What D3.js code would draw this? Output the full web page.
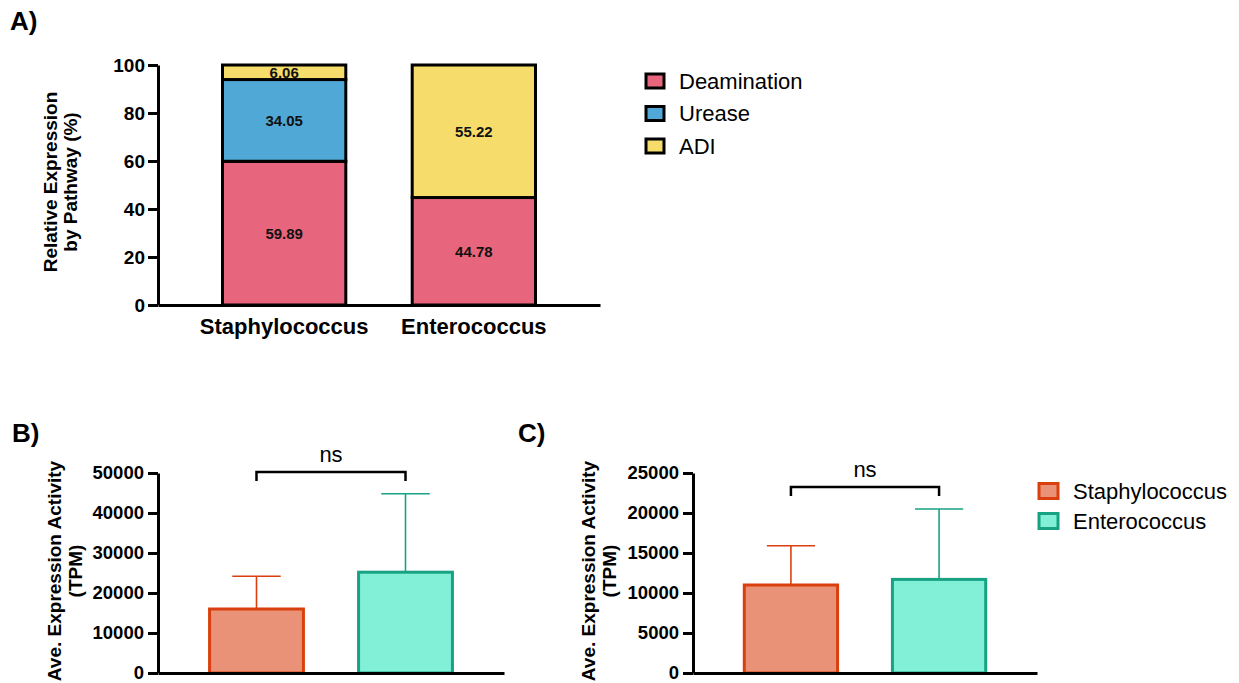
<!DOCTYPE html>
<html>
<head>
<meta charset="utf-8">
<script src="https://cdn.jsdelivr.net/npm/d3@7"></script>
<style>
  body { margin: 0; background: #fff; }
  text { font-family: "Liberation Sans", Arial, sans-serif; }
</style>
</head>
<body>
<div id="chart"></div>
<script>
// data
var genera = ["Staphylococcus", "Enterococcus"];
var pathways = ["Deamination", "Urease", "ADI"];
var deamination = [59.89, 44.78];
var urease = [34.05, 0];
var adi = [6.06, 55.22];
var ticksA = [0, 20, 40, 60, 80, 100];

// panel B and C: mean and SD (TPM)
var meanB = [16000, 25200];
var sdB = [8200, 19600];
var ticksB = [0, 10000, 20000, 30000, 40000, 50000];
var meanC = [11000, 11700];
var sdC = [4900, 8800];
var ticksC = [0, 5000, 10000, 15000, 20000, 25000];
var sigLabel = "ns";

var pathColor = d3.scaleOrdinal().domain(pathways).range(["#e8667d", "#4fa8d5", "#f6dc6b"]);
var fillColor = d3.scaleOrdinal().domain(genera).range(["#e99277", "#82f0d6"]);
var edgeColor = d3.scaleOrdinal().domain(genera).range(["#d9400e", "#17a283"]);

var width = 1239, height = 683;

var svg = d3.select("#chart")
  .append("svg")
    .attr("width", width)
    .attr("height", height);

function styleAxis(g, fontSize) {
  g.select(".domain").attr("stroke", "#000").attr("stroke-width", 3);
  g.selectAll(".tick line").attr("stroke", "#000").attr("stroke-width", 3);
  g.selectAll(".tick text")
    .attr("fill", "#000")
    .style("font-size", fontSize + "px")
    .style("font-weight", "bold");
}

// ---------- Panel A ----------
svg.append("text").attr("x", 10).attr("y", 30)
  .style("font-size", "26px").style("font-weight", "bold").text("A)");

var yA = d3.scaleLinear().domain([0, 100]).range([305, 65]);
var xA = d3.scaleBand().domain(genera).range([158, 600])
  .paddingInner(0.35).paddingOuter(0.34);

var rowsA = genera.map(function(g, i) {
  return { genus: g, Deamination: deamination[i], Urease: urease[i], ADI: adi[i] };
});
var stacked = d3.stack().keys(pathways)(rowsA);

var layers = svg.append("g").selectAll("g")
  .data(stacked)
  .enter().append("g")
    .attr("fill", function(d) { return pathColor(d.key); });

layers.selectAll("rect")
  .data(function(d) { return d.filter(function(s) { return s[1] - s[0] > 0; }); })
  .enter().append("rect")
    .attr("x", function(d) { return xA(d.data.genus); })
    .attr("y", function(d) { return yA(d[1]); })
    .attr("width", xA.bandwidth())
    .attr("height", function(d) { return yA(d[0]) - yA(d[1]); })
    .attr("stroke", "#000")
    .attr("stroke-width", 3);

layers.selectAll("text")
  .data(function(d) { return d.filter(function(s) { return s[1] - s[0] > 0; }); })
  .enter().append("text")
    .attr("x", function(d) { return xA(d.data.genus) + xA.bandwidth() / 2; })
    .attr("y", function(d) { return yA((d[0] + d[1]) / 2); })
    .attr("dy", "0.36em")
    .attr("text-anchor", "middle")
    .attr("fill", "#111")
    .style("font-size", "15px")
    .style("font-weight", "bold")
    .text(function(d) { return (d[1] - d[0]).toFixed(2); });

var axA = svg.append("g")
  .attr("transform", "translate(158,0)")
  .call(d3.axisLeft(yA).tickValues(ticksA).tickSize(10).tickSizeOuter(0).tickPadding(3));
styleAxis(axA, 19);

var axAx = svg.append("g")
  .attr("transform", "translate(0,305)")
  .call(d3.axisBottom(xA).tickSize(0).tickSizeOuter(0).tickPadding(13));
styleAxis(axAx, 22);

var titleA = svg.append("text")
  .attr("transform", "translate(57,182) rotate(-90)")
  .attr("text-anchor", "middle")
  .style("font-size", "19px").style("font-weight", "bold");
titleA.append("tspan").attr("x", 0).attr("y", 0).text("Relative Expression");
titleA.append("tspan").attr("x", 0).attr("y", 20).text("by Pathway (%)");

// legend A
var legA = svg.append("g").selectAll("g")
  .data(pathways)
  .enter().append("g")
    .attr("transform", function(d, i) { return "translate(646," + (81 + i * 32.5) + ")"; });
legA.append("rect")
  .attr("x", 0).attr("y", -7).attr("width", 18).attr("height", 14)
  .attr("fill", function(d) { return pathColor(d); })
  .attr("stroke", "#000").attr("stroke-width", 3);
legA.append("text")
  .attr("x", 33).attr("y", 7.5)
  .style("font-size", "22px")
  .text(function(d) { return d; });

// ---------- Panels B and C ----------
function drawPanel(label, labelX, axisX, axisEnd, domainMax, ticks, means, sds, bracketVal, titleX) {
  svg.append("text").attr("x", labelX).attr("y", 442)
    .style("font-size", "26px").style("font-weight", "bold").text(label);

  var y = d3.scaleLinear().domain([0, domainMax]).range([673, 473]);
  var x = d3.scaleBand().domain(genera).range([axisX, axisEnd])
    .paddingInner(0.35).paddingOuter(0.336);

  var rows = genera.map(function(g, i) { return { genus: g, mean: means[i], sd: sds[i] }; });

  // error bars (upper only)
  var err = svg.append("g").selectAll("g")
    .data(rows)
    .enter().append("g")
      .attr("stroke", function(d) { return edgeColor(d.genus); })
      .attr("stroke-width", 1.6);
  err.append("line")
    .attr("x1", function(d) { return x(d.genus) + x.bandwidth() / 2; })
    .attr("x2", function(d) { return x(d.genus) + x.bandwidth() / 2; })
    .attr("y1", function(d) { return y(d.mean); })
    .attr("y2", function(d) { return y(d.mean + d.sd); });
  err.append("line")
    .attr("x1", function(d) { return x(d.genus) + x.bandwidth() / 4; })
    .attr("x2", function(d) { return x(d.genus) + x.bandwidth() * 3 / 4; })
    .attr("y1", function(d) { return y(d.mean + d.sd); })
    .attr("y2", function(d) { return y(d.mean + d.sd); });

  svg.append("g").selectAll("rect")
    .data(rows)
    .enter().append("rect")
      .attr("x", function(d) { return x(d.genus) + 1.5; })
      .attr("y", function(d) { return y(d.mean); })
      .attr("width", x.bandwidth() - 3)
      .attr("height", function(d) { return y(0) - y(d.mean); })
      .attr("fill", function(d) { return fillColor(d.genus); })
      .attr("stroke", function(d) { return edgeColor(d.genus); })
      .attr("stroke-width", 3);

  var ax = svg.append("g")
    .attr("transform", "translate(" + axisX + ",0)")
    .call(d3.axisLeft(y).tickValues(ticks).tickFormat(d3.format("d"))
      .tickSize(10).tickSizeOuter(0).tickPadding(4));
  styleAxis(ax, 18.5);

  var axx = svg.append("g")
    .attr("transform", "translate(0,673)")
    .call(d3.axisBottom(x).tickSize(0).tickSizeOuter(0).tickFormat(""));
  styleAxis(axx, 18);

  // significance bracket
  var bx1 = x(genera[0]) + x.bandwidth() / 2;
  var bx2 = x(genera[1]) + x.bandwidth() / 2;
  var by = y(bracketVal);
  svg.append("path")
    .attr("d", "M" + bx1 + "," + (by + 9) + "V" + by + "H" + bx2 + "V" + (by + 9))
    .attr("fill", "none").attr("stroke", "#000").attr("stroke-width", 2.5);
  svg.append("text")
    .attr("x", (bx1 + bx2) / 2).attr("y", by - 10)
    .attr("text-anchor", "middle")
    .style("font-size", "22px")
    .text(sigLabel);

  var t = svg.append("text")
    .attr("transform", "translate(" + titleX + ",571) rotate(-90)")
    .attr("text-anchor", "middle")
    .style("font-size", "19px").style("font-weight", "bold");
  t.append("tspan").attr("x", 0).attr("y", 0).text("Ave. Expression Activity");
  t.append("tspan").attr("x", 0).attr("y", 21).text("(TPM)");
}

drawPanel("B)", 12, 158, 504, 50000, ticksB, meanB, sdB, 50250, 61);
drawPanel("C)", 518, 693, 1037, 25000, ticksC, meanC, sdC, 23250, 595);

// legend B/C
var legB = svg.append("g").selectAll("g")
  .data(genera)
  .enter().append("g")
    .attr("transform", function(d, i) { return "translate(1039," + (491 + i * 30) + ")"; });
legB.append("rect")
  .attr("x", 0).attr("y", -7.5).attr("width", 19).attr("height", 15)
  .attr("fill", function(d) { return fillColor(d); })
  .attr("stroke", function(d) { return edgeColor(d); })
  .attr("stroke-width", 3);
legB.append("text")
  .attr("x", 34).attr("y", 8)
  .style("font-size", "22px")
  .text(function(d) { return d; });
</script>
</body>
</html>
